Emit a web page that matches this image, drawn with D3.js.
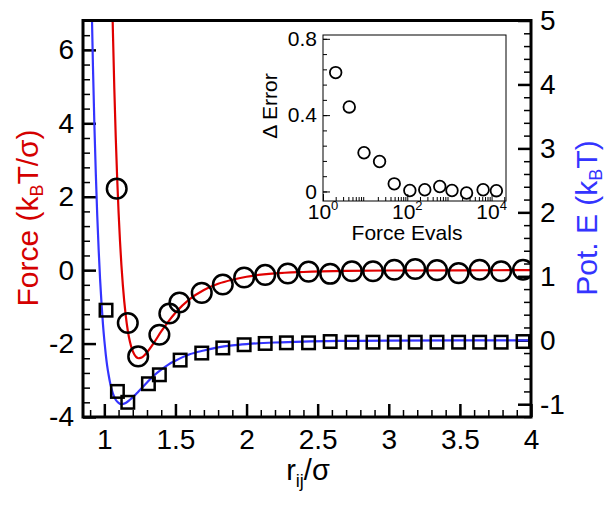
<!DOCTYPE html>
<html>
    <head>
        <meta charset="UTF-8">
        <title>lj force</title>
        <style type="text/css">
            body {
                margin: 0;
                background: #ffffff;
                font-family: "Liberation Sans", Arial, sans-serif;
            }
            .axis path.domain {
                display: none;
            }
            .axis line {
                stroke: #000;
            }
        </style>
        <script src="https://d3js.org/d3.v7.min.js"></script>
    </head>
    <body>
        <div id="plot"></div>
        <script>
            // force curve (red), r / sigma and kT/sigma
            const force_r = [1.05, 1.06, 1.07, 1.08, 1.09, 1.10, 1.11, 1.12, 1.13, 1.15, 1.165, 1.18, 1.195, 1.21, 1.225, 1.24, 1.255, 1.27, 1.30, 1.35, 1.40, 1.45, 1.5, 1.6, 1.7, 1.8, 1.9, 2.0, 2.2, 2.4, 2.7, 3.0, 3.5, 4.0];
            const force_v = [8.40, 6.54, 4.97, 3.65, 2.53, 1.59, 0.80, 0.14, -0.40, -1.22, -1.65, -1.95, -2.16, -2.29, -2.37, -2.40, -2.39, -2.36, -2.24, -1.97, -1.67, -1.40, -1.16, -0.79, -0.54, -0.37, -0.26, -0.18, -0.09, -0.05, -0.02, -0.01, -0.004, -0.001];

            // potential curve (blue), kT
            const pot_r = [0.91, 0.92, 0.93, 0.94, 0.95, 0.96, 0.97, 0.98, 0.99, 1.00, 1.01, 1.02, 1.03, 1.04, 1.06, 1.08, 1.10, 1.12, 1.15, 1.18, 1.21, 1.24, 1.27, 1.30, 1.35, 1.40, 1.45, 1.5, 1.6, 1.7, 1.8, 1.9, 2.0, 2.2, 2.4, 2.7, 3.0, 3.5, 4.0];
            const pot_v = [5.36, 4.28, 3.37, 2.61, 1.96, 1.42, 0.96, 0.58, 0.26, 0.0, -0.22, -0.40, -0.54, -0.66, -0.83, -0.93, -0.98, -1.0, -0.98, -0.93, -0.87, -0.80, -0.73, -0.66, -0.55, -0.46, -0.38, -0.32, -0.22, -0.16, -0.11, -0.08, -0.06, -0.035, -0.02, -0.01, -0.005, -0.002, -0.001];

            // sampled points
            const circ_r = [1.087, 1.165, 1.238, 1.387, 1.457, 1.528, 1.685, 1.833, 1.983, 2.131, 2.29, 2.436, 2.588, 2.741, 2.889, 3.039, 3.186, 3.339, 3.491, 3.639, 3.79, 3.944];
            const circ_v = [2.22, -1.44, -2.35, -1.76, -1.18, -0.88, -0.62, -0.39, -0.20, -0.13, -0.09, -0.04, -0.10, -0.03, -0.03, 0.01, 0.03, 0.0, -0.08, 0.01, -0.03, 0.01];
            const sq_r = [1.012, 1.092, 1.165, 1.31, 1.387, 1.533, 1.685, 1.833, 1.983, 2.131, 2.28, 2.436, 2.588, 2.741, 2.889, 3.039, 3.186, 3.339, 3.491, 3.639, 3.79, 3.944];
            const sq_v = [0.47, -0.80, -0.97, -0.68, -0.54, -0.31, -0.20, -0.12, -0.07, -0.05, -0.04, -0.04, -0.02, -0.03, -0.03, -0.03, -0.03, -0.03, -0.03, -0.03, -0.03, -0.02];

            // inset
            const evals = [2, 4.2, 9.4, 22, 49, 115, 260, 590, 1150, 2550, 6300, 13000];
            const d_error = [0.623, 0.443, 0.203, 0.157, 0.04, 0.005, 0.009, 0.026, 0.005, -0.008, 0.009, 0.004];

            const x_ticks = [1, 1.5, 2, 2.5, 3, 3.5, 4];
            const yl_ticks = [-4, -2, 0, 2, 4, 6];
            const yr_ticks = [-1, 0, 1, 2, 3, 4, 5];
            const inset_y_ticks = [0, 0.4, 0.8];
            const inset_x_ticks = [0, 2, 4];

            const width = 606, height = 505;
            const m_left = 83, m_right = 531, m_top = 20.5, m_bottom = 417;

            const svg = d3.select("#plot").append("svg")
                .attr("width", width)
                .attr("height", height)
                .style("font-family", "'Liberation Sans', Arial, sans-serif");

            const x = d3.scaleLinear().domain([0.85, 4]).range([m_left, m_right]);
            const yl = d3.scaleLinear().domain([-4, 6.8]).range([m_bottom, m_top]);
            const yr = d3.scaleLinear().domain([-1.2, 5]).range([m_bottom, m_top]);

            svg.append("clipPath").attr("id", "clip")
                .append("rect")
                .attr("x", m_left).attr("y", m_top)
                .attr("width", m_right - m_left).attr("height", m_bottom - m_top);

            const minor = (a, b, step) => d3.range(Math.round((b - a) / step) + 1).map(i => +(a + i * step).toFixed(4));

            // minor ticks
            svg.append("g").attr("class", "axis")
                .attr("transform", `translate(0,${m_bottom})`)
                .call(d3.axisBottom(x).tickValues(minor(0.9, 4, 0.1)).tickSize(-7).tickFormat(""))
                .selectAll("line").attr("stroke-width", 1.5);
            svg.append("g").attr("class", "axis")
                .attr("transform", `translate(${m_left},0)`)
                .call(d3.axisLeft(yl).tickValues(minor(-4, 6.8, 0.4)).tickSize(-7).tickFormat(""))
                .selectAll("line").attr("stroke-width", 1.5);
            svg.append("g").attr("class", "axis")
                .attr("transform", `translate(${m_right},0)`)
                .call(d3.axisRight(yr).tickValues(minor(-1.2, 5, 0.2)).tickSize(-7).tickFormat(""))
                .selectAll("line").attr("stroke-width", 1.5);

            // major ticks + labels
            const gx = svg.append("g").attr("class", "axis")
                .attr("transform", `translate(0,${m_bottom})`)
                .call(d3.axisBottom(x).tickValues(x_ticks).tickSize(-13).tickPadding(12).tickFormat(d3.format("")));
            const gyl = svg.append("g").attr("class", "axis")
                .attr("transform", `translate(${m_left},0)`)
                .call(d3.axisLeft(yl).tickValues(yl_ticks).tickSize(-13).tickPadding(9).tickFormat(d3.format("")));
            const gyr = svg.append("g").attr("class", "axis")
                .attr("transform", `translate(${m_right},0)`)
                .call(d3.axisRight(yr).tickValues(yr_ticks).tickSize(-13).tickPadding(9).tickFormat(d3.format("")));
            [gx, gyl, gyr].forEach(g => {
                g.selectAll("line").attr("stroke-width", 2.5);
                g.selectAll("text").attr("font-size", 28).attr("fill", "#000")
                    .attr("font-family", "'Liberation Sans', Arial, sans-serif")
                    .text(function () { return this.textContent.replace("−", "-"); });
            });

            // curves
            const plot = svg.append("g").attr("clip-path", "url(#clip)");
            const pot_line = d3.line().x((d, i) => x(pot_r[i])).y(d => yr(d)).curve(d3.curveMonotoneX);
            const force_line = d3.line().x((d, i) => x(force_r[i])).y(d => yl(d)).curve(d3.curveMonotoneX);
            plot.append("path").attr("d", pot_line(pot_v))
                .attr("fill", "none").attr("stroke", "#3434ff").attr("stroke-width", 2.2);
            plot.append("path").attr("d", force_line(force_v))
                .attr("fill", "none").attr("stroke", "#e00000").attr("stroke-width", 2.2);

            // markers
            plot.selectAll(".circ").data(circ_v).enter().append("circle")
                .attr("cx", (d, i) => x(circ_r[i])).attr("cy", d => yl(d)).attr("r", 9.8)
                .attr("fill", "none").attr("stroke", "#000").attr("stroke-width", 2.5);
            const s = 12.5;
            plot.selectAll(".sq").data(sq_v).enter().append("rect")
                .attr("x", (d, i) => x(sq_r[i]) - s / 2).attr("y", d => yr(d) - s / 2)
                .attr("width", s).attr("height", s)
                .attr("fill", "none").attr("stroke", "#000").attr("stroke-width", 2.5);

            // frame
            svg.append("rect").attr("x", m_left).attr("y", m_top)
                .attr("width", m_right - m_left).attr("height", m_bottom - m_top)
                .attr("fill", "none").attr("stroke", "#000").attr("stroke-width", 3);

            // axis titles
            const xt = svg.append("text").attr("x", 308).attr("y", 480)
                .attr("text-anchor", "middle").attr("font-size", 29);
            xt.append("tspan").text("r");
            xt.append("tspan").attr("font-size", 18).attr("dy", 7).text("ij");
            xt.append("tspan").attr("dy", -7).text("/σ");

            const ylt = svg.append("text").attr("transform", "translate(38,218) rotate(-90)")
                .attr("text-anchor", "middle").attr("font-size", 30).attr("fill", "#d40000");
            ylt.append("tspan").text("Force (k");
            ylt.append("tspan").attr("font-size", 18).attr("dy", 5).text("B");
            ylt.append("tspan").attr("dy", -5).text("T/σ)");

            const yrt = svg.append("text").attr("transform", "translate(597,218) rotate(-90)")
                .attr("text-anchor", "middle").attr("font-size", 30).attr("fill", "#3434ff");
            yrt.append("tspan").text("Pot. E (k");
            yrt.append("tspan").attr("font-size", 18).attr("dy", 5).text("B");
            yrt.append("tspan").attr("dy", -5).text("T)");

            // inset
            const il = 323, ir = 506, it = 35, ib = 201;
            const xi = d3.scaleLog().domain([1, 22000]).range([il, ir]);
            const yi = d3.scaleLinear().domain([-0.05, 0.82]).range([ib, it]);

            svg.append("rect").attr("x", il).attr("y", it)
                .attr("width", ir - il).attr("height", ib - it)
                .attr("fill", "#fff").attr("stroke", "#000").attr("stroke-width", 1);

            const log_minor = [];
            [1, 10, 100, 1000, 10000].forEach(p => d3.range(2, 10).forEach(k => { if (p * k < 22000) log_minor.push(p * k); }));
            svg.append("g").attr("class", "axis")
                .attr("transform", `translate(0,${ib})`)
                .call(d3.axisBottom(xi).tickValues(log_minor).tickSize(-4).tickFormat(""));
            svg.append("g").attr("class", "axis")
                .attr("transform", `translate(0,${ib})`)
                .call(d3.axisBottom(xi).tickValues(inset_x_ticks.map(e => Math.pow(10, e))).tickSize(-7).tickFormat(""));
            svg.append("g").attr("class", "axis")
                .attr("transform", `translate(${il},0)`)
                .call(d3.axisLeft(yi).tickValues(minor(-0.0, 0.8, 0.08)).tickSize(-4).tickFormat(""));
            const giy = svg.append("g").attr("class", "axis")
                .attr("transform", `translate(${il},0)`)
                .call(d3.axisLeft(yi).tickValues(inset_y_ticks).tickSize(-7).tickPadding(6).tickFormat(d3.format("")));
            giy.selectAll("text").attr("font-size", 21).attr("fill", "#000")
                .attr("font-family", "'Liberation Sans', Arial, sans-serif");

            inset_x_ticks.forEach(e => {
                const t = svg.append("text").attr("x", xi(Math.pow(10, e))).attr("y", 219)
                    .attr("text-anchor", "middle").attr("font-size", 21);
                t.append("tspan").text("10");
                t.append("tspan").attr("font-size", 13).attr("dy", -9).text(e);
            });
            svg.append("text").attr("x", 407).attr("y", 240)
                .attr("text-anchor", "middle").attr("font-size", 21).text("Force Evals");
            svg.append("text").attr("transform", "translate(277,106) rotate(-90)")
                .attr("text-anchor", "middle").attr("font-size", 21).text("Δ Error");

            svg.selectAll(".ic").data(d_error).enter().append("circle")
                .attr("cx", (d, i) => xi(evals[i])).attr("cy", d => yi(d)).attr("r", 5.8)
                .attr("fill", "none").attr("stroke", "#000").attr("stroke-width", 1.8);
        </script>
    </body>
</html>
